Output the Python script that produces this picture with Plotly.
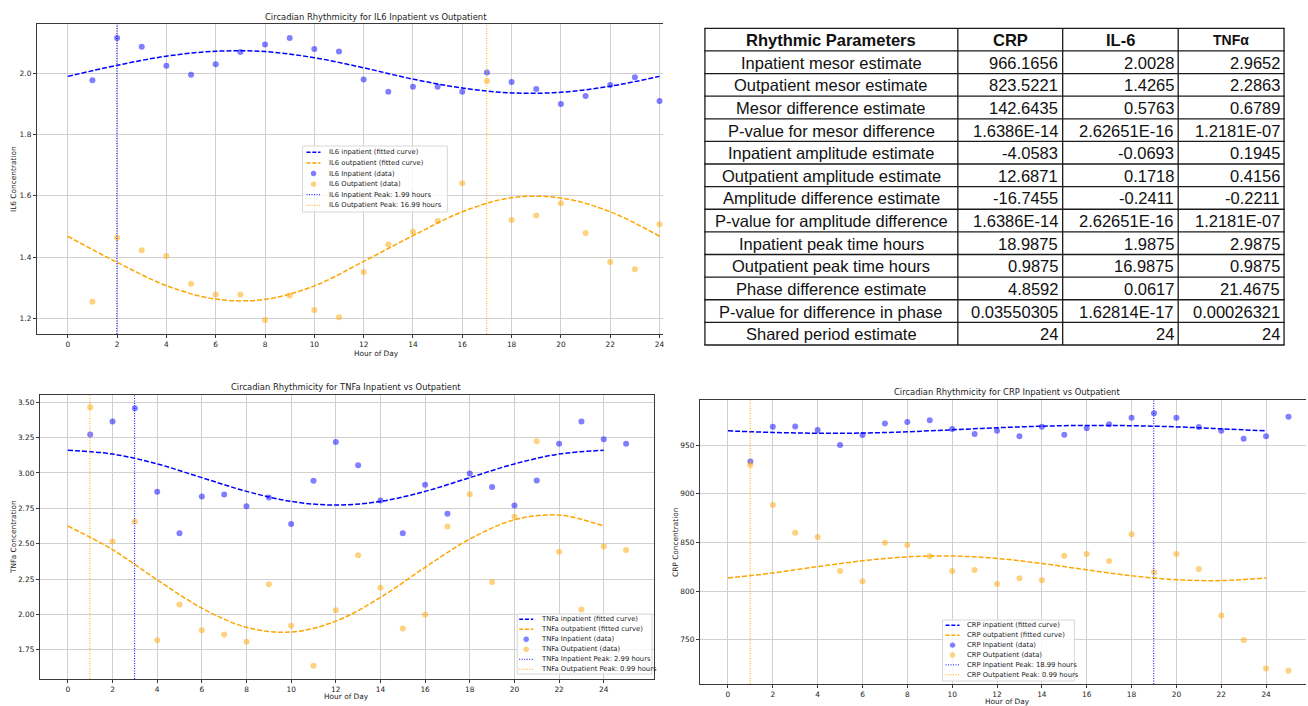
import plotly.graph_objects as go

W, H = 1308, 706

# ---------------- data ----------------
hours_il6 = list(range(1, 25))
il6_inpatient = [1.977, 2.115, 2.087, 2.025, 1.995, 2.030, 2.070, 2.094, 2.115, 2.079, 2.071, 1.980,
                 1.940, 1.956, 1.956, 1.940, 2.003, 1.972, 1.949, 1.900, 1.926, 1.962, 1.987, 1.910]
il6_outpatient = [1.254, 1.463, 1.422, 1.404, 1.313, 1.278, 1.278, 1.195, 1.275, 1.227, 1.204, 1.351,
                  1.441, 1.483, 1.518, 1.641, 1.975, 1.521, 1.536, 1.576, 1.479, 1.384, 1.360, 1.507]

fit_hours = list(range(0, 25, 2))
il6_inpatient_fit = [1.990, 2.026, 2.056, 2.072, 2.071, 2.051, 2.018, 1.981, 1.952, 1.936, 1.938, 1.958, 1.990]
il6_outpatient_fit = [1.468, 1.383, 1.307, 1.263, 1.262, 1.306, 1.386, 1.470, 1.548, 1.594, 1.593, 1.548, 1.468]
il6_peaks = [1.99, 16.99]

hours_25 = list(range(1, 26))
tnf_inpatient = [3.271, 3.363, 3.457, 2.867, 2.574, 2.834, 2.848, 2.765, 2.827, 2.640, 2.945, 3.219, 3.054,
                 2.806, 2.574, 2.917, 2.711, 2.997, 2.900, 2.770, 2.947, 3.207, 3.363, 3.238, 3.207]
tnf_outpatient = [3.465, 2.515, 2.657, 1.818, 2.071, 1.889, 1.859, 1.807, 2.213, 1.920, 1.637, 2.029, 2.418,
                  2.189, 1.901, 1.998, 2.621, 2.850, 2.229, 2.690, 3.224, 2.444, 2.036, 2.480, 2.456]
tnf_inpatient_fit = [3.160, 3.134, 3.064, 2.967, 2.870, 2.799, 2.773, 2.799, 2.870, 2.967, 3.064, 3.134, 3.160]
tnf_outpatient_fit = [2.625, 2.458, 2.245, 2.045, 1.909, 1.876, 1.953, 2.120, 2.333, 2.533, 2.669, 2.702, 2.625]
tnf_peaks = [2.99, 0.99]

crp_inpatient = [933.2, 968.8, 969.1, 965.4, 950.0, 960.3, 972.2, 973.6, 975.6, 966.4, 961.3, 964.7, 959.2,
                 968.8, 960.6, 967.4, 971.5, 978.0, 982.8, 978.0, 968.5, 964.7, 956.5, 959.2, 979.1]
crp_outpatient = [929.5, 888.5, 860.1, 855.6, 820.8, 810.2, 849.8, 847.4, 835.8, 820.8, 821.8, 807.4, 813.2,
                  811.2, 836.5, 838.2, 831.0, 858.4, 819.4, 838.2, 822.8, 775.0, 750.0, 720.6, 718.2]
crp_inpatient_fit = [964.6, 963.0, 962.2, 962.4, 963.7, 965.7, 967.8, 969.4, 970.2, 969.9, 968.7, 966.7, 964.6]
crp_outpatient_fit = [813.5, 818.7, 825.2, 831.2, 835.2, 836.1, 833.6, 828.4, 821.9, 815.8, 811.8, 810.9, 813.5]
crp_peaks = [18.99, 0.99]

x_tick_values = list(range(0, 25, 2))
il6_y_ticks = [1.2, 1.4, 1.6, 1.8, 2.0]
tnf_y_ticks = [1.75, 2.00, 2.25, 2.50, 2.75, 3.00, 3.25, 3.50]
crp_y_ticks = [750, 800, 850, 900, 950]

table_headers = ["Rhythmic Parameters", "CRP", "IL-6", "TNFα"]
table_parameters = ["Inpatient mesor estimate", "Outpatient mesor estimate", "Mesor difference estimate",
                    "P-value for mesor difference", "Inpatient amplitude estimate", "Outpatient amplitude estimate",
                    "Amplitude difference estimate", "P-value for amplitude difference", "Inpatient peak time hours",
                    "Outpatient peak time hours", "Phase difference estimate", "P-value for difference in phase",
                    "Shared period estimate"]
table_crp = ["966.1656", "823.5221", "142.6435", "1.6386E-14", "-4.0583", "12.6871", "-16.7455", "1.6386E-14",
             "18.9875", "0.9875", "4.8592", "0.03550305", "24"]
table_il6 = ["2.0028", "1.4265", "0.5763", "2.62651E-16", "-0.0693", "0.1718", "-0.2411", "2.62651E-16",
             "1.9875", "16.9875", "0.0617", "1.62814E-17", "24"]
table_tnf = ["2.9652", "2.2863", "0.6789", "1.2181E-07", "0.1945", "0.4156", "-0.2211", "1.2181E-07",
             "2.9875", "0.9875", "21.4675", "0.00026321", "24"]

# ---------------- styling helpers ----------------
FONT = "DejaVu Sans"
BLUE = "#0000ff"
ORANGE = "#ffa500"
BLUE_A = "rgba(0,0,255,0.5)"
ORANGE_A = "rgba(255,165,0,0.5)"
GRID = "#d0d0d0"
SPINE = "#3a3a3a"


def px(x):
    return x / W


def py(y):
    return 1 - y / H


fig = go.Figure()

charts = [
    dict(name="IL6", xa="x", ya="y", xdom=(37, 664), ydom=(24, 334), xr=(-1.25, 24.14), yr=(1.149, 2.161),
         yticks=il6_y_ticks, yfmt=".1f", hours=hours_il6, inp=il6_inpatient, out=il6_outpatient,
         inp_fit=il6_inpatient_fit, out_fit=il6_outpatient_fit, peaks=il6_peaks, mirror_y=False,
         title_xy=(377, 17), xt_xy=(377, 353), yt_xy=(14, 179),
         legend=dict(box=(303, 146, 448, 212), y0=152.3, dy=10.6, sx=(307, 321), tx=327.5)),
    dict(name="TNFa", xa="x2", ya="y2", xdom=(40, 655), ydom=(395, 679), xr=(-1.25, 26.25), yr=(1.544, 3.551),
         yticks=tnf_y_ticks, yfmt=".2f", hours=hours_25, inp=tnf_inpatient, out=tnf_outpatient,
         inp_fit=tnf_inpatient_fit, out_fit=tnf_outpatient_fit, peaks=tnf_peaks, mirror_y=True,
         title_xy=(347, 387), xt_xy=(347, 696.5), yt_xy=(13, 537),
         legend=dict(box=(518, 614, 653, 674), y0=619.3, dy=10.0, sx=(520, 534), tx=540)),
    dict(name="CRP", xa="x3", ya="y3", xdom=(701, 1308), ydom=(400, 684), xr=(-1.25, 25.78), yr=(704.7, 996.3),
         yticks=crp_y_ticks, yfmt="d", hours=hours_25, inp=crp_inpatient, out=crp_outpatient,
         inp_fit=crp_inpatient_fit, out_fit=crp_outpatient_fit, peaks=crp_peaks, mirror_y=False,
         title_xy=(1009, 392), xt_xy=(1009, 701.5), yt_xy=(676, 542),
         legend=dict(box=(944, 620, 1076, 681), y0=625.3, dy=9.9, sx=(947, 961), tx=966)),
]

shapes = []
annotations = []

for c in charts:
    n = c["name"]
    xa, ya = c["xa"], c["ya"]
    fig.add_trace(go.Scatter(x=fit_hours, y=c["inp_fit"], mode="lines", xaxis=xa, yaxis=ya,
                             line=dict(color=BLUE, width=1.5, dash="5px,2px", shape="spline"),
                             name=f"{n} inpatient (fitted curve)", showlegend=False))
    fig.add_trace(go.Scatter(x=fit_hours, y=c["out_fit"], mode="lines", xaxis=xa, yaxis=ya,
                             line=dict(color=ORANGE, width=1.5, dash="5px,2px", shape="spline"),
                             name=f"{n} outpatient (fitted curve)", showlegend=False))
    fig.add_trace(go.Scatter(x=c["hours"], y=c["inp"], mode="markers", xaxis=xa, yaxis=ya,
                             marker=dict(color=BLUE_A, size=6, line=dict(width=0)),
                             name=f"{n} Inpatient (data)", showlegend=False))
    fig.add_trace(go.Scatter(x=c["hours"], y=c["out"], mode="markers", xaxis=xa, yaxis=ya,
                             marker=dict(color=ORANGE_A, size=6, line=dict(width=0)),
                             name=f"{n} Outpatient (data)", showlegend=False))
    for pk, col, lab in zip(c["peaks"], [BLUE, ORANGE], ["Inpatient", "Outpatient"]):
        fig.add_trace(go.Scatter(x=[pk, pk], y=list(c["yr"]), mode="lines", xaxis=xa, yaxis=ya,
                                 line=dict(color=col, width=1, dash="1px,1.5px"),
                                 name=f"{n} {lab} Peak: {pk:.2f} hours", showlegend=False))

    axis_common = dict(showgrid=True, gridcolor=GRID, gridwidth=1, zeroline=False, showline=True,
                       linecolor=SPINE, linewidth=1.2, ticks="outside", ticklen=3, tickwidth=1,
                       tickcolor=SPINE, tickfont=dict(family=FONT, size=7.4, color="#222"))
    fig.update_layout(**{
        ("xaxis" if xa == "x" else "xaxis" + xa[1:]): dict(
            domain=[px(c["xdom"][0]), px(c["xdom"][1])], range=list(c["xr"]), anchor=ya,
            tickvals=x_tick_values, mirror=True, **axis_common),
        ("yaxis" if ya == "y" else "yaxis" + ya[1:]): dict(
            domain=[py(c["ydom"][1]), py(c["ydom"][0])], range=list(c["yr"]), anchor=xa,
            tickvals=c["yticks"], tickformat=c["yfmt"], mirror=c["mirror_y"], **axis_common),
    })

    annotations.append(dict(text=f"Circadian Rhythmicity for {n} Inpatient vs Outpatient", xref="paper",
                            yref="paper", x=px(c["title_xy"][0]), y=py(c["title_xy"][1]), xanchor="center",
                            yanchor="middle", showarrow=False, font=dict(family=FONT, size=8.4, color="#222")))
    annotations.append(dict(text="Hour of Day", xref="paper", yref="paper", x=px(c["xt_xy"][0]),
                            y=py(c["xt_xy"][1]), xanchor="center", yanchor="middle", showarrow=False,
                            font=dict(family=FONT, size=7.4, color="#222")))
    annotations.append(dict(text=f"{n} Concentration", xref="paper", yref="paper", x=px(c["yt_xy"][0]),
                            y=py(c["yt_xy"][1]), xanchor="center", yanchor="middle", showarrow=False,
                            textangle=-90, font=dict(family=FONT, size=7.4, color="#222")))

    # legend drawn from shapes + text
    lg = c["legend"]
    bx0, by0, bx1, by1 = lg["box"]
    shapes.append(dict(type="rect", xref="paper", yref="paper", x0=px(bx0), x1=px(bx1), y0=py(by1), y1=py(by0),
                       line=dict(color="#d8d8d8", width=1), fillcolor="rgba(255,255,255,0.8)", layer="above"))
    entries = [
        ("dash", BLUE, f"{n} inpatient (fitted curve)"),
        ("dash", ORANGE, f"{n} outpatient (fitted curve)"),
        ("marker", BLUE_A, f"{n} Inpatient (data)"),
        ("marker", ORANGE_A, f"{n} Outpatient (data)"),
        ("dot", BLUE, f"{n} Inpatient Peak: {c['peaks'][0]:.2f} hours"),
        ("dot", ORANGE, f"{n} Outpatient Peak: {c['peaks'][1]:.2f} hours"),
    ]
    sx0, sx1 = lg["sx"]
    for i, (kind, col, lab) in enumerate(entries):
        yc = lg["y0"] + i * lg["dy"]
        if kind == "marker":
            cx = (sx0 + sx1) / 2
            shapes.append(dict(type="circle", xref="paper", yref="paper", x0=px(cx - 2.7), x1=px(cx + 2.7),
                               y0=py(yc + 2.7), y1=py(yc - 2.7), fillcolor=col, line=dict(width=0), layer="above"))
        else:
            shapes.append(dict(type="line", xref="paper", yref="paper", x0=px(sx0), x1=px(sx1), y0=py(yc), y1=py(yc),
                               line=dict(color=col, width=1.5 if kind == "dash" else 1,
                                         dash="4px,1.8px" if kind == "dash" else "1px,1.5px"), layer="above"))
        annotations.append(dict(text=lab, xref="paper", yref="paper", x=px(lg["tx"]), y=py(yc), xanchor="left",
                                yanchor="middle", showarrow=False, font=dict(family=FONT, size=6.8, color="#222")))

# ---------------- table (grid lines + text) ----------------
TFONT = "Liberation Sans, Arial"
col_edges = [706, 959.3, 1064.3, 1180, 1286]
row_top, row_h = 28.3, 22.62
n_rows = len(table_parameters) + 1
row_edges = [row_top + i * row_h for i in range(n_rows + 1)]
TLINE = dict(color="#1a1a1a", width=1.3)
for yb in row_edges:
    shapes.append(dict(type="line", xref="paper", yref="paper", x0=px(col_edges[0] - 0.6), x1=px(col_edges[-1] + 0.6),
                       y0=py(yb), y1=py(yb), line=TLINE))
for xb in col_edges:
    shapes.append(dict(type="line", xref="paper", yref="paper", x0=px(xb), x1=px(xb),
                       y0=py(row_edges[0]), y1=py(row_edges[-1]), line=TLINE))

columns = [table_parameters, table_crp, table_il6, table_tnf]
for j, head in enumerate(table_headers):
    cx = (col_edges[j] + col_edges[j + 1]) / 2
    annotations.append(dict(text="<b>" + head + "</b>", xref="paper", yref="paper", x=px(cx),
                            y=py(row_edges[0] + row_h / 2 + 0.5), xanchor="center", yanchor="middle",
                            showarrow=False,
                            font=dict(family=TFONT, size=14 if j == 3 else 16.5, color="#111")))
for j, col in enumerate(columns):
    for i, val in enumerate(col):
        yc = row_edges[i + 1] + row_h / 2 + 0.5
        if j == 0:
            xx, anc = (col_edges[0] + col_edges[1]) / 2, "center"
        else:
            xx, anc = col_edges[j + 1] - 2.5, "right"
        annotations.append(dict(text=val, xref="paper", yref="paper", x=px(xx), y=py(yc), xanchor=anc,
                                yanchor="middle", showarrow=False,
                                font=dict(family=TFONT, size=16.5, color="#111")))

fig.update_layout(width=W, height=H, margin=dict(l=0, r=0, t=0, b=0), paper_bgcolor="white",
                  plot_bgcolor="white", showlegend=False, shapes=shapes, annotations=annotations)

fig.write_html("out.html")
